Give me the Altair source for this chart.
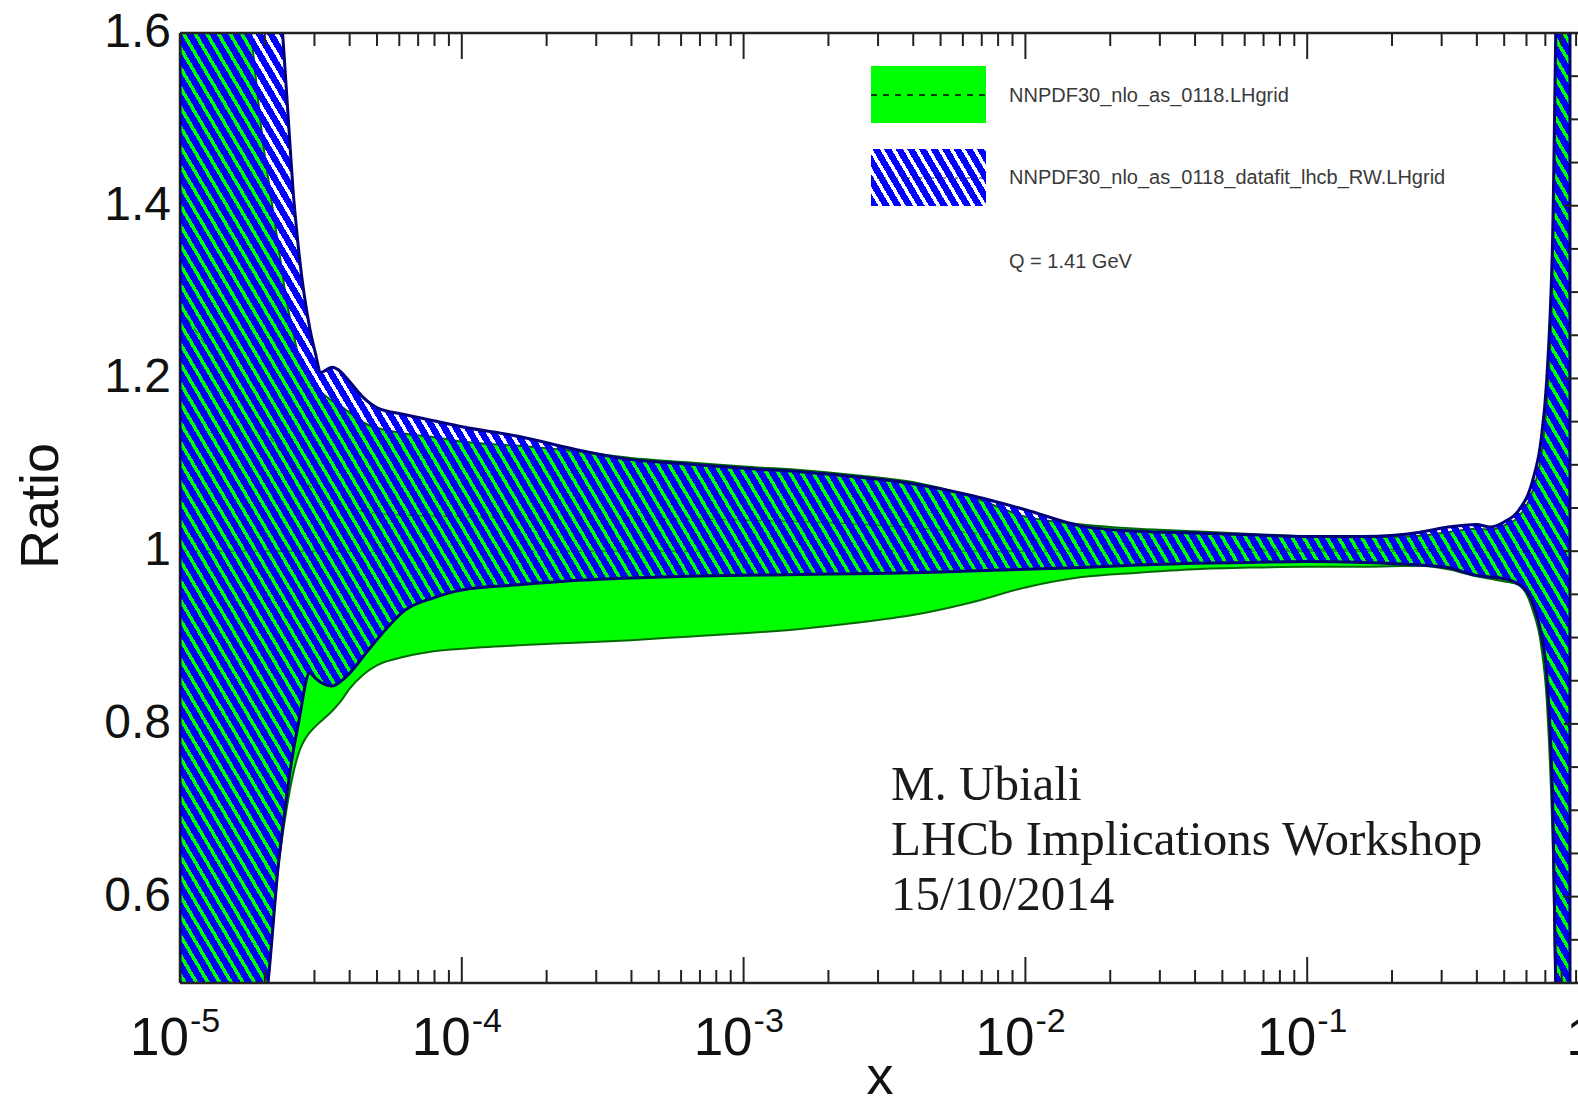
import math
import altair as alt
import pandas as pd

# ---------------- values ----------------
X = [1.0e-5, 1.585e-5, 1.995e-5, 2.239e-5, 2.399e-5, 2.512e-5, 2.630e-5, 2.884e-5,
     3.020e-5, 3.162e-5, 3.467e-5, 3.715e-5, 3.981e-5, 4.467e-5, 5.012e-5, 6.310e-5,
     7.943e-5, 1.0e-4, 1.585e-4, 2.512e-4, 3.981e-4, 6.310e-4, 1.0e-3, 1.585e-3,
     2.512e-3, 3.981e-3, 6.310e-3, 1.0e-2, 1.585e-2, 2.512e-2, 3.981e-2, 6.310e-2,
     0.1, 0.1585, 0.2512, 0.3162, 0.3981, 0.4467, 0.5012, 0.5623, 0.6310, 0.6761,
     0.7079, 0.7413, 0.7762, 0.8128, 0.856]

BLUE_UP = [1.7, 1.7, 1.7, 1.65, 1.522, 1.423, 1.352, 1.259, 1.23, 1.207, 1.213, 1.208,
           1.197, 1.178, 1.166, 1.158, 1.151, 1.144, 1.133, 1.118, 1.106, 1.101, 1.096,
           1.092, 1.086, 1.078, 1.065, 1.048, 1.029, 1.023, 1.021, 1.019, 1.017, 1.017,
           1.022, 1.028, 1.031, 1.028, 1.034, 1.047, 1.082, 1.129, 1.198, 1.349, 1.7,
           1.7, 1.7]
BLUE_LO = [0.4, 0.4, 0.47, 0.64, 0.72, 0.765, 0.80, 0.859, 0.853, 0.848, 0.844, 0.849,
           0.858, 0.878, 0.898, 0.932, 0.946, 0.955, 0.961, 0.966, 0.969, 0.971, 0.972,
           0.973, 0.974, 0.975, 0.977, 0.979, 0.981, 0.984, 0.986, 0.987, 0.988, 0.987,
           0.984, 0.981, 0.972, 0.970, 0.968, 0.962, 0.94, 0.905, 0.857, 0.723, 0.4,
           0.4, 0.4]
GREEN_UP = [1.7, 1.7, 1.46, 1.351, 1.287, 1.256, 1.226, 1.20, 1.19, 1.184, 1.174, 1.168,
            1.161, 1.149, 1.143, 1.136, 1.132, 1.127, 1.122, 1.116, 1.108, 1.103, 1.098,
            1.094, 1.088, 1.080, 1.064, 1.040, 1.031, 1.026, 1.023, 1.020, 1.017, 1.016,
            1.018, 1.022, 1.026, 1.025, 1.03, 1.04, 1.07, 1.11, 1.17, 1.31, 1.7, 1.7, 1.7]
GREEN_LO = [0.4, 0.4, 0.47, 0.638, 0.705, 0.74, 0.765, 0.79, 0.797, 0.803, 0.815, 0.826,
            0.84, 0.857, 0.868, 0.878, 0.884, 0.887, 0.891, 0.894, 0.897, 0.901, 0.905,
            0.91, 0.917, 0.926, 0.94, 0.958, 0.970, 0.975, 0.979, 0.981, 0.982, 0.982,
            0.983, 0.979, 0.971, 0.968, 0.965, 0.961, 0.932, 0.891, 0.828, 0.677, 0.4,
            0.4, 0.4]

BLUE_CENTRE_X = [1.0e-5, 1.5e-5, 2.0e-5, 2.5e-5, 3.0e-5, 4.0e-5, 6.0e-5, 1.0e-4, 1.0e-3,
                 3.0e-3, 1.0e-2, 2.0e-2, 0.1, 0.3, 0.6, 0.75]
BLUE_CENTRE = [1.28, 1.20, 1.14, 1.10, 1.07, 1.05, 1.042, 1.04, 1.036, 1.03, 1.015, 1.005,
               1.002, 1.002, 1.0, 1.0]
GREEN_CENTRE_X = [1.0e-5, 0.856]
GREEN_CENTRE = [1.0, 1.0]

Y_TICK_VALUES = [0.6, 0.8, 1.0, 1.2, 1.4, 1.6]
Y_TICK_LABELS = ["0.6", "0.8", "1", "1.2", "1.4", "1.6"]
X_DECADES = [1e-5, 1e-4, 1e-3, 1e-2, 1e-1]
X_BASES = ["10", "10", "10", "10", "10"]
X_EXPONENTS = ["-5", "-4", "-3", "-2", "-1"]
X_LAST_TICK = [1.0]
X_LAST_LABEL = ["1"]

LEGEND_1 = "NNPDF30_nlo_as_0118.LHgrid"
LEGEND_2 = "NNPDF30_nlo_as_0118_datafit_lhcb_RW.LHgrid"
LEGEND_3 = "Q = 1.41 GeV"
NOTE = ["M. Ubiali", "LHCb Implications Workshop", "15/10/2014"]

# ---------------- geometry / style ----------------
W, H = 1398, 950
PX_PER_DECADE = 281.8
X_MIN = 1e-5
X_MAX = 10 ** (math.log10(X_MIN) + W / PX_PER_DECADE)
Y_MIN, Y_MAX = 0.5, 1.6
SANS = "Liberation Sans"
SERIF = "Liberation Serif"
BLUE = "#0000ff"
GREEN = "#00ff00"

xs = alt.Scale(type="log", domain=[X_MIN, X_MAX], nice=False)
ys = alt.Scale(domain=[Y_MIN, Y_MAX], nice=False, zero=False)


def px_x(v):
    return (math.log10(v) - math.log10(X_MIN)) * PX_PER_DECADE


def px_y(v):
    return (Y_MAX - v) / (Y_MAX - Y_MIN) * H


def hatch(wb, hb, period, frac, color, slope=1.7):
    """diagonal '\\' stripes as a hard-stop linear gradient in bbox units"""
    length = (slope * wb + hb) / math.sqrt(1 + slope * slope)
    k = (slope * wb + hb) / (slope ** 2 * wb ** 2 + hb ** 2)
    gx = slope * k * wb
    gy = -k * hb
    clear = "rgba(0,0,255,0)"
    stops = []
    n = int(math.ceil(length / period))
    for i in range(n):
        a = min(1.0, i * period / length)
        b = min(1.0, (i + frac) * period / length)
        c = min(1.0, (i + 1) * period / length)
        stops += [alt.GradientStop(offset=round(a, 5), color=color),
                  alt.GradientStop(offset=round(b, 5), color=color),
                  alt.GradientStop(offset=round(b, 5), color=clear),
                  alt.GradientStop(offset=round(c, 5), color=clear)]
    return alt.LinearGradient(gradient="linear", stops=stops,
                              x1=0, y1=1, x2=round(gx, 5), y2=round(1 + gy, 5))


bands = pd.DataFrame({"x": X, "bu": BLUE_UP, "bl": BLUE_LO, "gu": GREEN_UP, "gl": GREEN_LO})
bbox_w = px_x(max(X))
bbox_h = px_y(min(BLUE_LO)) - px_y(max(BLUE_UP))
band_hatch = hatch(bbox_w, bbox_h, 10.0, 0.64, BLUE)
legend_hatch = hatch(115, 57, 10.0, 0.64, BLUE)

enc_x = alt.X("x:Q", scale=xs, axis=None)

green_band = alt.Chart(bands).mark_area(
    fill=GREEN, opacity=1, stroke="#006a00", strokeWidth=2, interpolate="monotone", clip=True
).encode(x=enc_x, y=alt.Y("gu:Q", scale=ys, axis=None), y2="gl:Q")

blue_band = alt.Chart(bands).mark_area(
    fill=band_hatch, opacity=1, stroke="#00007a", strokeWidth=3, interpolate="monotone", clip=True
).encode(x=enc_x, y=alt.Y("bu:Q", scale=ys, axis=None), y2="bl:Q")

green_centre = alt.Chart(pd.DataFrame({"x": GREEN_CENTRE_X, "y": GREEN_CENTRE})).mark_line(
    color="#000000", strokeWidth=1.3, strokeDash=[6, 6], opacity=0.45, clip=True
).encode(x=enc_x, y=alt.Y("y:Q", scale=ys, axis=None))

blue_centre = alt.Chart(pd.DataFrame({"x": BLUE_CENTRE_X, "y": BLUE_CENTRE})).mark_line(
    color="#000033", strokeWidth=1.3, strokeDash=[6, 6], opacity=0.45, interpolate="monotone", clip=True
).encode(x=enc_x, y=alt.Y("y:Q", scale=ys, axis=None))

# ---------------- frame and ticks ----------------
minor_x = [k * 10 ** e for e in range(-5, 0) for k in range(2, 10) if k * 10 ** e <= X_MAX]
major_x = [d for d in X_DECADES if d <= X_MAX]
all_y = [round(0.5 + 0.05 * i, 2) for i in range(23)]
minor_y = [v for v in all_y if v not in Y_TICK_VALUES]


def xticks(vals, y0, y1):
    return alt.Chart(pd.DataFrame({"x": vals})).mark_rule(color="#222", strokeWidth=2).encode(
        x=enc_x, y=alt.value(y0), y2=alt.value(y1))


def yticks(vals, x0, x1):
    return alt.Chart(pd.DataFrame({"y": vals})).mark_rule(color="#222", strokeWidth=2).encode(
        y=alt.Y("y:Q", scale=ys, axis=None), x=alt.value(x0), x2=alt.value(x1))


one = pd.DataFrame({"a": [0]})
left_line = alt.Chart(one).mark_rule(color="#222", strokeWidth=2.5).encode(
    x=alt.value(0), y=alt.value(0), y2=alt.value(H))
top_line = alt.Chart(one).mark_rule(color="#222", strokeWidth=2.5).encode(
    x=alt.value(0), x2=alt.value(W), y=alt.value(0))
bottom_line = alt.Chart(one).mark_rule(color="#222", strokeWidth=2.5).encode(
    x=alt.value(0), x2=alt.value(W), y=alt.value(H))

ticks = [
    xticks(major_x, 0, 26), xticks(minor_x, 0, 13),
    xticks(major_x, H - 26, H), xticks(minor_x, H - 13, H),
    yticks(Y_TICK_VALUES, W - 14, W), yticks(minor_y, W - 8, W),
]
left_ticks = [yticks(Y_TICK_VALUES, 0, 26), yticks(minor_y, 0, 13)]

# ---------------- tick labels and titles ----------------
ylab = alt.Chart(pd.DataFrame({"y": Y_TICK_VALUES, "t": Y_TICK_LABELS})).mark_text(
    font=SANS, fontSize=48, align="right", baseline="middle", color="#111"
).encode(y=alt.Y("y:Q", scale=ys, axis=None), x=alt.value(-9), text="t:N")

xdf = pd.DataFrame({"x": X_DECADES, "b": X_BASES, "e": X_EXPONENTS})
xlab_base = alt.Chart(xdf).mark_text(
    font=SANS, fontSize=53, align="right", baseline="alphabetic", dx=9, color="#111"
).encode(x=enc_x, y=alt.value(1022), text="b:N")
xlab_exp = alt.Chart(xdf).mark_text(
    font=SANS, fontSize=34, align="left", baseline="alphabetic", dx=10, color="#111"
).encode(x=enc_x, y=alt.value(999), text="e:N")
xlab_last = alt.Chart(pd.DataFrame({"x": X_LAST_TICK, "t": X_LAST_LABEL})).mark_text(
    font=SANS, fontSize=53, align="center", baseline="alphabetic", dx=-8, color="#111"
).encode(x=enc_x, y=alt.value(1022), text="t:N")


def label(text, x, y, **kw):
    return alt.Chart(pd.DataFrame({"t": [text]})).mark_text(**kw).encode(
        text="t:N", x=alt.value(x), y=alt.value(y))


x_title = label("x", 700, 1061, font=SANS, fontSize=54, align="center", baseline="alphabetic", color="#111")
y_title = label("Ratio", -138, 473, font=SANS, fontSize=54, align="center", baseline="middle",
                angle=270, color="#111")

notes = [label(t, 711, 767 + 55 * i, font=SERIF, fontSize=49, align="left",
               baseline="alphabetic", color="#1a1a1a") for i, t in enumerate(NOTE)]

# ---------------- legend ----------------
leg_green = alt.Chart(one).mark_rect(fill=GREEN).encode(
    x=alt.value(691), x2=alt.value(806), y=alt.value(33), y2=alt.value(90))
leg_green_line = alt.Chart(one).mark_rule(color="#000", strokeWidth=1.5, strokeDash=[6, 6]).encode(
    x=alt.value(691), x2=alt.value(806), y=alt.value(62))
leg_blue = alt.Chart(one).mark_rect(fill=legend_hatch).encode(
    x=alt.value(691), x2=alt.value(806), y=alt.value(116), y2=alt.value(173))
leg_blue_line = alt.Chart(one).mark_rule(color="#000033", strokeWidth=1.5, strokeDash=[3, 3],
                                         opacity=0.6).encode(
    x=alt.value(691), x2=alt.value(806), y=alt.value(145))
leg_texts = [
    label(LEGEND_1, 829, 63, font=SANS, fontSize=20, align="left", baseline="middle", color="#3a3a3a"),
    label(LEGEND_2, 829, 145, font=SANS, fontSize=20, align="left", baseline="middle", color="#3a3a3a"),
    label(LEGEND_3, 829, 229, font=SANS, fontSize=20, align="left", baseline="middle", color="#3a3a3a"),
]

chart = alt.layer(
    left_line, *left_ticks,
    green_band, green_centre, blue_band, blue_centre,
    top_line, bottom_line, *ticks,
    ylab, xlab_base, xlab_exp, xlab_last, x_title, y_title,
    *notes,
    leg_green, leg_green_line, leg_blue, leg_blue_line, *leg_texts,
).properties(
    width=W, height=H,
    autosize=alt.AutoSizeParams(type="none"),
    padding={"left": 180, "top": 33, "right": 0, "bottom": 114},
    background="white",
).configure_view(strokeWidth=0)

chart.save("out.html", embed_options={"renderer": "svg", "actions": False})
